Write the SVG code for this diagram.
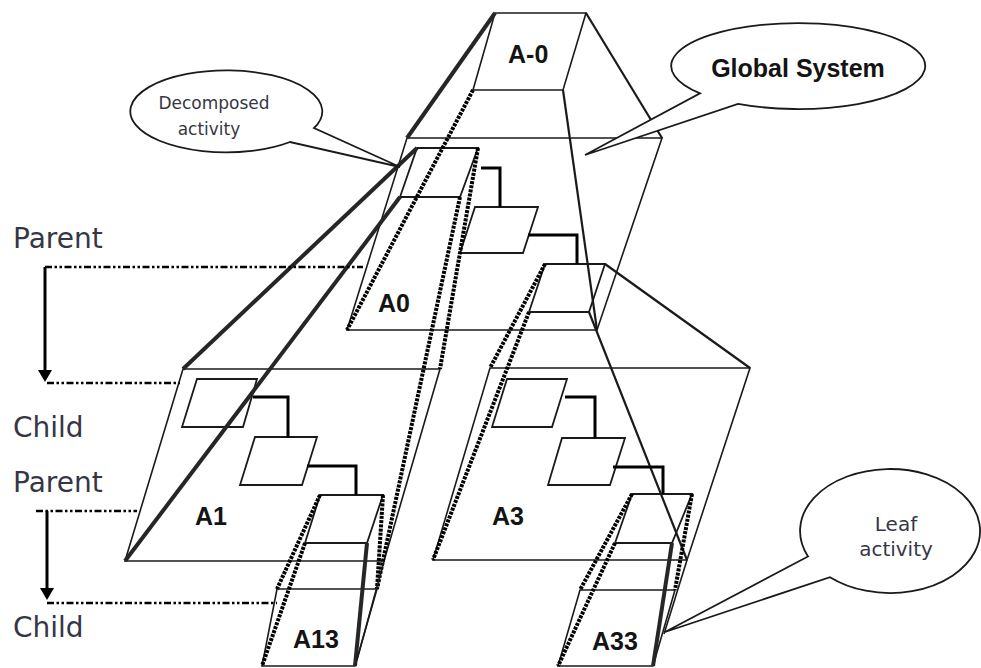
<svg xmlns="http://www.w3.org/2000/svg" width="981" height="668" viewBox="0 0 981 668">
  <defs>
    <style>
      .plane { fill: none; stroke: #1a1a1a; stroke-width: 1.6; stroke-linejoin: miter; }
      .thin { fill: none; stroke: #1a1a1a; stroke-width: 1.6; }
      .box { fill: none; stroke: #1a1a1a; stroke-width: 1.8; }
      .link { fill: none; stroke: #000; stroke-width: 3; stroke-linejoin: miter; }
      .edge { fill: none; stroke: #1a1a1a; stroke-width: 2.2; }
      .heavy { fill: none; stroke: #262626; stroke-width: 4; }
      .hatch { fill: none; stroke: #000; stroke-width: 4; stroke-dasharray: 3 1.2; }
      .dd { fill: none; stroke: #000; stroke-width: 2.4; stroke-dasharray: 7 2.5 2.5 2.5 2.5 2.5; }
      .down { fill: none; stroke: #000; stroke-width: 3; }
      .lbl { font-family: "Liberation Sans", Arial, sans-serif; font-weight: bold; font-size: 25px; fill: #141414; }
      .side { font-family: "DejaVu Sans", Verdana, sans-serif; font-size: 28px; fill: #363646; }
      .note { font-family: "DejaVu Sans", Verdana, sans-serif; fill: #363646; text-anchor: middle; }
      .bubble { fill: #fff; stroke: #1a1a1a; stroke-width: 1.8; stroke-linejoin: miter; }
    </style>
    <marker id="arrow" viewBox="0 0 12 14" refX="0" refY="7" markerWidth="12" markerHeight="14" markerUnits="userSpaceOnUse" orient="auto">
      <path d="M0,0 L12,7 L0,14 Z" fill="#000"/>
    </marker>
  </defs>

  <rect width="981" height="668" fill="#fff"/>

  <!-- Top level context -->
  <g id="node-a-minus-0">
    <polygon class="plane" points="495,13 586,13 563,90 473,90"/>
    <text class="lbl" x="508" y="63">A-0</text>
  </g>

  <!-- Level 0 decomposition -->
  <g id="node-a0">
    <polygon class="plane" points="407,138 662,138 597,330 347,330"/>
    <polygon class="box" points="417,148 478,148 460,197 400,197"/>
    <polygon class="box" points="475,207 538,207 523,253 460,253"/>
    <polygon class="box" points="545,264 605,264 589,312 529,312"/>
    <text class="lbl" x="378" y="312">A0</text>
  </g>

  <g id="node-a1">
    <path class="plane" d="M183,369 H440 L384,561 H125 Z"/>
    <polygon class="box" points="197,379 257,379 243,427 182,427"/>
    <polygon class="box" points="255,437 317,437 302,485 240,485"/>
    <polygon class="box" points="320,495 383,495 367,543 305,543"/>
    <text class="lbl" x="195" y="525">A1</text>
  </g>

  <g id="node-a3">
    <polygon class="plane" points="490,368 750,368 687,560 433,560"/>
    <polygon class="box" points="507,379 567,379 552,427 492,427"/>
    <polygon class="box" points="562,438 625,438 610,485 548,485"/>
    <polygon class="box" points="632,494 692,494 672,543 615,543"/>
    <text class="lbl" x="492" y="525">A3</text>
  </g>

  <g id="node-a13">
    <polygon class="plane" points="277,589 377,589 355,666 262,666"/>
    <text class="lbl" x="293" y="648">A13</text>
  </g>

  <g id="node-a33">
    <polygon class="plane" points="580,590 675,590 653,666 558,666"/>
    <text class="lbl" x="592" y="650">A33</text>
  </g>

  <g id="connectors">
    <!-- A-0 expanded into A0 -->
    <line class="heavy" x1="495" y1="13" x2="407" y2="138"/>
    <line class="edge" x1="586" y1="13" x2="662" y2="138"/>
    <line class="hatch" x1="473" y1="90" x2="347" y2="330"/>
    <line class="edge" x1="563" y1="90" x2="597" y2="330"/>

    <!-- first box of A0 expanded into A1 -->
    <line class="heavy" x1="417" y1="148" x2="183" y2="369"/>
    <line class="heavy" x1="400" y1="197" x2="125" y2="561"/>
    <line class="hatch" x1="478" y1="148" x2="440" y2="369"/>
    <line class="hatch" x1="460" y1="197" x2="377" y2="589"/>

    <!-- third box of A0 expanded into A3 -->
    <line class="hatch" x1="545" y1="264" x2="490" y2="368"/>
    <line class="edge" x1="605" y1="264" x2="750" y2="368"/>
    <line class="hatch" x1="529" y1="312" x2="433" y2="560"/>
    <line class="edge" x1="589" y1="312" x2="687" y2="560"/>

    <!-- third box of A1 expanded into A13 -->
    <line class="hatch" x1="320" y1="495" x2="277" y2="589"/>
    <line class="hatch" x1="305" y1="543" x2="262" y2="666"/>
    <line class="hatch" x1="383" y1="495" x2="377" y2="589"/>
    <line class="heavy" x1="367" y1="543" x2="355" y2="666"/>
    <line class="thin" x1="384" y1="561" x2="357" y2="660"/>

    <!-- third box of A3 expanded into A33 -->
    <line class="hatch" x1="632" y1="494" x2="580" y2="590"/>
    <line class="hatch" x1="615" y1="543" x2="558" y2="666"/>
    <line class="hatch" x1="692" y1="494" x2="675" y2="590"/>
    <line class="heavy" x1="672" y1="543" x2="653" y2="666"/>
    <line class="thin" x1="687" y1="560" x2="664" y2="634"/>

    <!-- links between activity boxes -->
    <path class="link" d="M481,168 H500 V207"/>
    <path class="link" d="M528,235 H577 V264"/>
    <path class="link" d="M253,397 H288 V438"/>
    <path class="link" d="M307,466 H356 V495"/>
    <path class="link" d="M565,397 H595 V438"/>
    <path class="link" d="M613,467 H663 V494"/>

    <!-- parent / child level markers -->
    <line class="dd" x1="45" y1="267" x2="363" y2="267"/>
    <line class="dd" x1="47" y1="383" x2="180" y2="383"/>
    <line class="down" x1="45" y1="267" x2="45" y2="370" marker-end="url(#arrow)"/>
    <line class="dd" x1="36" y1="511" x2="137" y2="511"/>
    <line class="dd" x1="47" y1="603" x2="277" y2="603"/>
    <line class="down" x1="47" y1="511" x2="47" y2="588" marker-end="url(#arrow)"/>
  </g>

  <g id="labels">
    <text class="side" x="13" y="248">Parent</text>
    <text class="side" x="13" y="437">Child</text>
    <text class="side" x="13" y="492">Parent</text>
    <text class="side" x="13" y="637">Child</text>
  </g>

  <g id="callout-decomposed">
    <path class="bubble" d="M314,128 A96,41 0 1 0 290,142 L400,167 Z"/>
    <text class="note" font-size="17" x="214" y="109">Decomposed</text>
    <text class="note" font-size="17" x="209" y="135">activity</text>
  </g>

  <g id="callout-global">
    <path class="bubble" d="M700,93.3 A127,43 0 1 1 738,103.9 L585,155 Z"/>
    <text class="lbl" x="798" y="77" text-anchor="middle">Global System</text>
  </g>

  <g id="callout-leaf">
    <path class="bubble" d="M808,556.5 A90,62 0 1 1 830,577.2 L665,632 Z"/>
    <text class="note" font-size="20" x="896" y="531">Leaf</text>
    <text class="note" font-size="20" x="896" y="556">activity</text>
  </g>
</svg>
